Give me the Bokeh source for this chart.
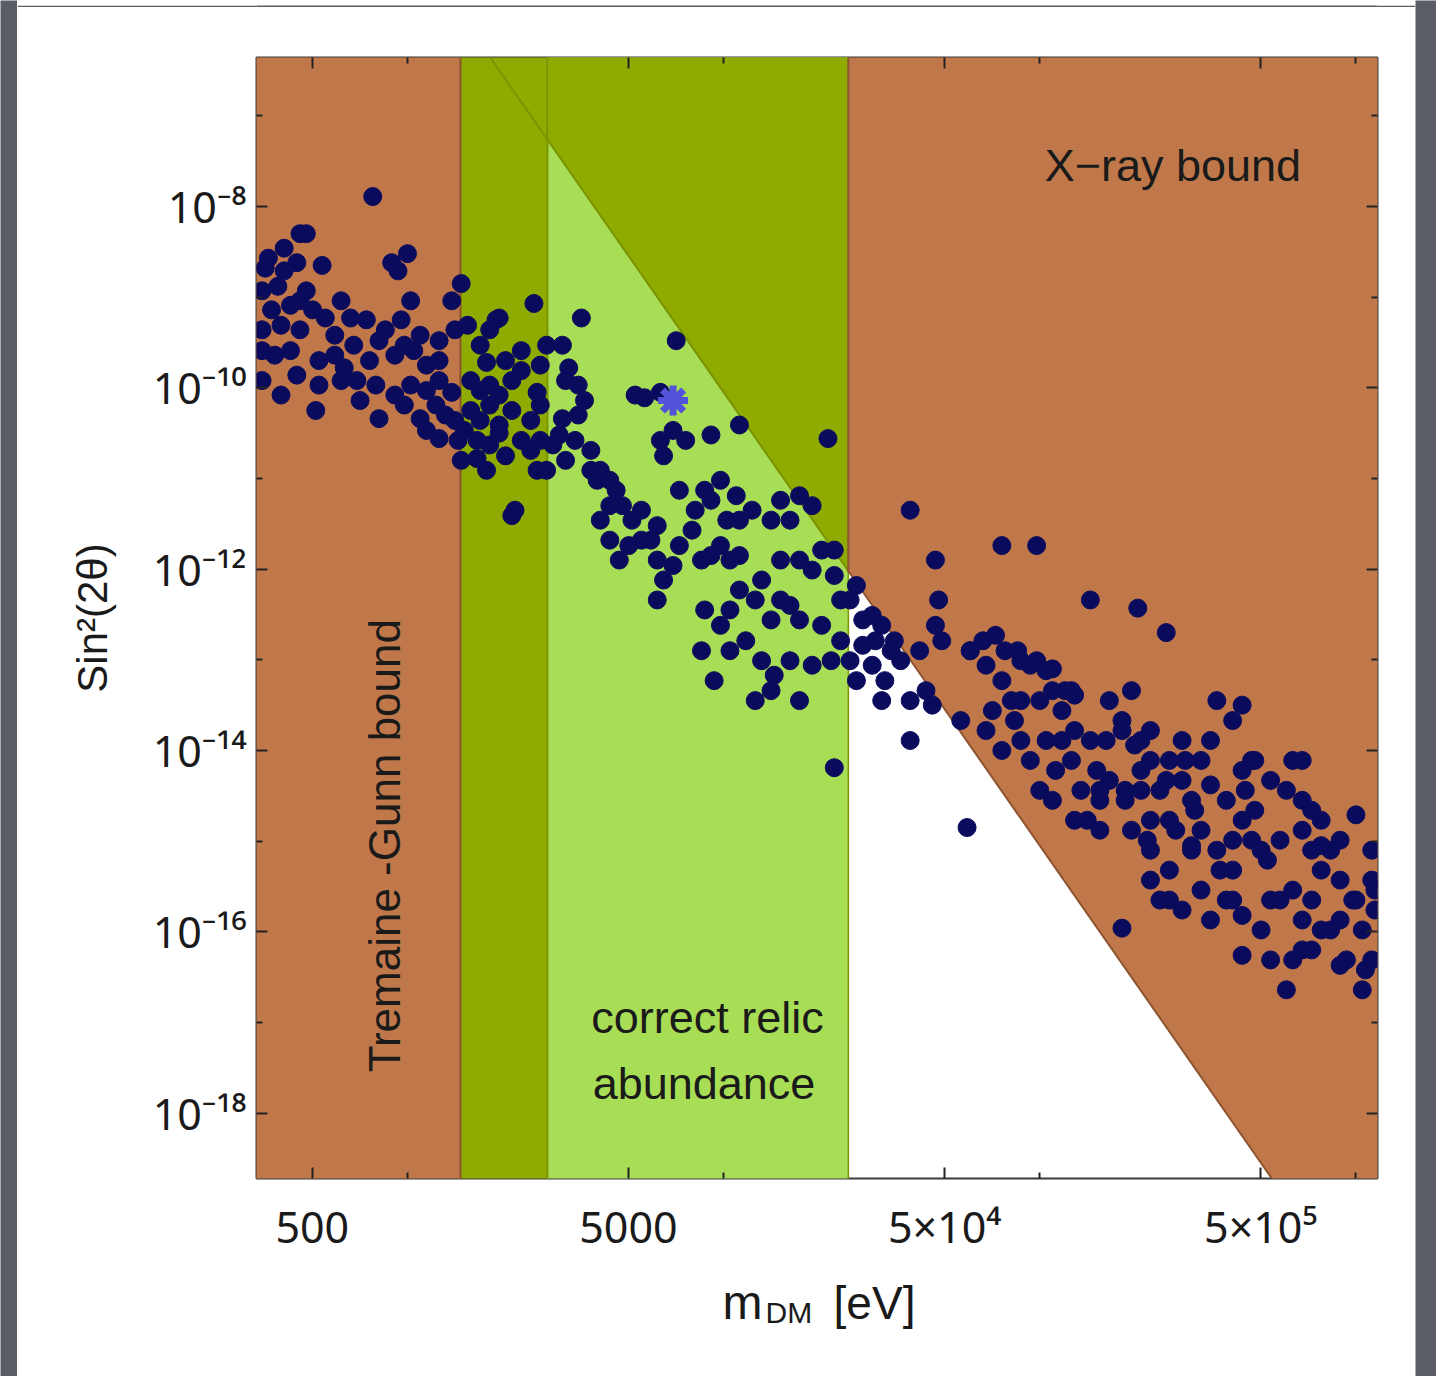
import math
from bokeh.plotting import figure
from bokeh.layouts import row, column
from bokeh.models import FixedTicker, LogAxis, Range1d
from bokeh.core.properties import value
from bokeh.embed import file_html
from bokeh.resources import INLINE

FONT = "Liberation Sans"
TICK_FONT = "Noto Sans"

# ---------------- data ----------------
x_limits = [333.0, 1.17e6]          # m_DM [eV]
y_limits = [1.9e-19, 4.4e-7]        # sin^2(2 theta)

tremaine_gunn_limit = 1470.0        # eV
dark_band_edge = 2770.0             # eV
relic_upper = 24800.0               # eV
xray_m = [1828.0, 5.42e5]           # X-ray bound end points
xray_s = [4.4e-7, 1.9e-19]

x_major = [500, 5000, 50000, 500000]
x_minor = [1000, 10000, 100000, 1000000]
x_tick_labels = ["500", "5000", "5×10⁴", "5×10⁵"]
y_major = [1e-8, 1e-10, 1e-12, 1e-14, 1e-16, 1e-18]
y_minor = [1e-7, 1e-9, 1e-11, 1e-13, 1e-15, 1e-17, 1e-19]
y_tick_labels = ["10⁻⁸", "10⁻¹⁰", "10⁻¹²", "10⁻¹⁴", "10⁻¹⁶", "10⁻¹⁸"]

# scan points: log10(m/eV), log10(sin^2 2theta)
log_m = [
    # below the Tremaine-Gunn limit
    2.89, 2.66, 2.68, 2.56, 2.61, 2.95, 3.00, 2.65, 2.73, 2.97, 2.54, 2.59, 2.66, 2.68,
    3.17, 3.14, 2.57, 2.63, 2.70, 2.74, 2.82, 3.01, 2.98, 2.54, 2.60, 2.66, 2.77, 2.83,
    2.91, 2.99, 3.04, 3.10, 3.15, 2.54, 2.58, 2.63, 2.72, 2.77, 2.80, 2.88, 2.96, 3.02,
    3.06, 3.10, 2.54, 2.65, 2.72, 2.79, 2.90, 2.96, 3.01, 3.06, 3.10, 3.14, 2.71, 2.85,
    2.91, 2.99, 3.04, 3.09, 3.12, 3.15, 3.06, 3.10, 3.16, 3.18, 2.55, 2.61, 2.79, 2.87,
    2.93, 2.84, 2.60,
    # dark band
    3.19, 3.26, 3.28, 3.29, 3.40, 3.44, 3.23, 3.25, 3.31, 3.36, 3.36, 3.42, 3.20, 3.23,
    3.26, 3.29, 3.33, 3.41, 3.20, 3.23, 3.26, 3.29, 3.33, 3.39, 3.42, 3.22, 3.26, 3.29,
    3.31, 3.36, 3.39, 3.42, 3.17, 3.22, 3.25, 3.33, 3.34, 3.41,
    # correct relic abundance band
    3.55, 3.49, 3.85, 3.51, 3.54, 3.56, 3.50, 3.72, 3.75, 3.80, 3.54, 3.49, 3.48, 3.46,
    3.53, 3.58, 3.80, 3.84, 3.88, 3.96, 4.05, 4.33, 3.44, 3.50, 3.58, 3.60, 3.61, 3.64,
    3.66, 3.81, 3.86, 3.94, 3.99, 4.04, 4.24, 3.61, 3.64, 3.68, 3.71, 3.74, 3.79, 3.90,
    3.91, 3.96, 4.01, 4.05, 4.09, 4.15, 4.18, 4.21, 4.28, 4.31, 4.35, 3.67, 3.77, 3.79,
    3.81, 3.84, 3.86, 3.93, 3.96, 3.99, 4.02, 4.05, 4.12, 4.18, 4.24, 4.28, 4.35, 3.79,
    3.94, 3.99, 4.02, 4.05, 4.10, 4.15, 4.18, 4.21, 4.24, 4.31, 4.37, 4.37, 3.93, 3.97,
    4.02, 4.07, 4.12, 4.16, 4.21, 4.28, 4.34, 4.24, 4.10, 4.15, 4.35, 3.64, 3.70, 3.74,
    # heavier masses
    4.40, 4.42, 4.44, 4.47, 4.50, 4.44, 4.48, 4.53, 4.54, 4.40, 4.42, 4.47, 4.51, 4.56,
    4.59, 4.62, 4.67, 4.69, 4.64, 4.66, 4.59, 4.50, 4.59, 4.67, 4.68, 4.77, 4.88, 4.99,
    4.78, 4.83, 4.86, 4.89, 4.91, 4.94, 4.99, 5.02, 5.04, 5.07, 5.10, 5.16, 4.83, 4.88,
    4.94, 4.97, 5.00, 5.05, 5.07, 5.10, 5.13, 5.15, 5.16, 5.18, 5.19, 5.11, 5.04, 5.31,
    5.40, 5.26, 5.29, 5.32, 5.35, 5.38, 5.41, 5.45, 5.48, 5.51, 5.54, 5.56, 5.29, 5.35,
    5.41, 5.48, 5.51, 5.57, 5.61, 5.64, 5.65, 5.26, 5.27, 5.22, 5.38, 5.45, 5.54, 5.64,
    5.70, 5.73, 5.78, 5.80, 5.83, 5.86, 5.89, 5.92, 5.95, 5.99, 6.02, 6.03, 6.05, 6.06,
    6.02, 5.95, 5.89, 5.83, 5.80, 5.73, 5.68, 5.76, 5.97, 6.00, 4.88, 4.75, 5.22, 5.19,
    5.35, 5.70, 5.86, 5.61, 5.80, 5.92, 5.67, 5.51, 5.45, 5.32, 5.83,
    4.78, 4.82, 4.93, 4.97, 5.04, 5.08, 5.11, 5.00, 4.94, 4.85, 4.92, 5.02, 5.11, 5.21,
    5.26, 5.30, 5.35, 5.41, 5.46, 5.61, 5.64, 5.19, 5.27, 5.32, 5.40, 5.49, 5.54, 5.59,
    5.64, 5.68, 5.78, 5.83, 5.86, 5.34, 5.43, 5.48, 5.56, 5.61, 5.67, 5.72, 5.83, 5.89,
    6.05, 5.35, 5.41, 5.59, 5.64, 5.76, 5.89, 5.95, 6.00, 6.06, 5.73, 5.86, 5.95, 6.05,
]
log_s2 = [
    -7.89, -8.30, -8.30, -8.57, -8.46, -8.62, -8.52, -8.62, -8.65, -8.71, -8.93, -8.88, -9.04, -8.93,
    -8.85, -9.04, -9.14, -9.09, -9.14, -9.23, -9.23, -9.04, -9.25, -9.36, -9.31, -9.36, -9.42, -9.53,
    -9.48, -9.53, -9.42, -9.48, -9.36, -9.59, -9.64, -9.59, -9.70, -9.64, -9.78, -9.70, -9.64, -9.59,
    -9.75, -9.70, -9.92, -9.86, -9.97, -9.92, -9.97, -10.08, -9.97, -10.03, -9.92, -10.05, -10.25, -10.14,
    -10.34, -10.19, -10.34, -10.19, -10.30, -10.36, -10.47, -10.56, -10.58, -10.47, -8.68, -8.71, -9.04, -9.25,
    -9.36, -9.92, -10.08,
    -9.31, -9.36, -9.25, -9.23, -9.07, -9.53, -9.53, -9.72, -9.70, -9.81, -9.59, -9.75, -9.92, -10.03,
    -9.97, -10.08, -9.92, -10.05, -10.25, -10.36, -10.19, -10.41, -10.25, -10.36, -10.19, -10.58, -10.63, -10.50,
    -10.75, -10.58, -10.69, -10.58, -10.80, -10.78, -10.91, -11.41, -11.35, -10.91,
    -9.23, -9.53, -9.48, -9.78, -9.97, -10.14, -9.92, -10.08, -10.11, -10.05, -10.30, -10.34, -10.52, -10.63,
    -10.58, -10.69, -10.58, -10.47, -10.58, -10.52, -10.41, -10.56, -10.91, -10.80, -10.91, -11.02, -10.91, -11.02,
    -11.13, -10.75, -11.13, -11.13, -11.02, -11.19, -11.19, -11.46, -11.30, -11.30, -11.46, -11.35, -11.52, -11.57,
    -11.35, -11.24, -11.46, -11.46, -11.35, -11.46, -11.24, -11.46, -11.30, -11.79, -11.79, -11.90, -11.68, -11.90,
    -12.12, -11.96, -11.74, -11.90, -11.85, -11.74, -11.90, -11.85, -12.12, -11.90, -11.90, -12.01, -12.07, -12.34,
    -12.45, -12.62, -12.45, -12.23, -12.34, -12.56, -12.34, -12.40, -12.56, -12.62, -12.34, -12.79, -12.90, -13.23,
    -12.90, -12.79, -13.01, -13.17, -13.01, -13.06, -13.01, -13.45, -13.45, -13.34, -14.19, -11.68, -11.74, -11.68,
    -12.34, -12.18, -12.56, -12.51, -12.62, -12.84, -12.79, -12.90, -12.79, -13.01, -13.23, -13.06, -13.23, -13.01,
    -13.45, -12.90, -12.62, -12.79, -13.34, -13.50, -13.89, -13.45, -11.35, -11.90, -12.34, -14.85, -11.74, -11.74,
    -12.90, -13.06, -12.73, -12.90, -13.45, -13.01, -13.01, -13.12, -13.34, -13.56, -13.34, -12.34, -13.78, -14.00,
    -13.89, -14.11, -14.44, -14.22, -13.89, -14.11, -14.44, -14.77, -13.89, -14.22, -14.55, -14.77, -14.55, -12.43,
    -12.70, -13.67, -13.34, -13.89, -14.11, -14.44, -14.77, -14.33, -14.55, -14.11, -13.89, -13.45, -14.88, -15.10,
    -15.32, -15.10, -15.54, -15.32, -14.99, -14.77, -14.44, -15.96, -14.55, -14.33, -15.65, -15.76, -15.87, -16.26,
    -15.98, -15.65, -16.64, -16.31, -15.87, -15.65, -15.32, -15.10, -15.43, -15.65, -15.98, -16.42, -15.43, -15.76,
    -16.64, -14.99, -14.77, -14.55, -14.11, -14.33, -14.66, -14.99, -16.31, -14.71, -13.23, -13.67, -13.45, -14.88,
    -14.77, -15.10, -15.10, -15.65, -15.54, -15.98, -14.11, -14.88, -13.89, -14.44, -16.20,
    -12.90, -12.79, -12.90, -13.06, -13.10, -13.34, -13.39, -13.45, -13.45, -13.56, -13.67, -13.89, -13.78, -13.89,
    -13.78, -13.94, -13.78, -14.11, -14.11, -13.67, -13.50, -14.44, -14.44, -14.22, -14.33, -14.66, -14.38, -14.55,
    -14.22, -14.11, -14.44, -14.11, -14.66, -14.99, -14.88, -15.05, -15.10, -15.32, -14.99, -15.21, -14.88, -15.05,
    -15.10, -15.43, -15.65, -15.65, -15.82, -15.65, -15.98, -15.87, -15.65, -15.54, -16.31, -16.20, -16.37, -16.31,
]
bench_log_m = [3.84]
bench_log_s2 = [-10.14]

# ---------------- colours ----------------
BROWN = "#C0784A"
BROWN_EDGE = "#8E5430"
DARK_GREEN = "#8FAB00"
DARK_GREEN_EDGE = "#7C9400"
LIGHT_GREEN = "#A8DD56"
NAVY = "#0B0B5E"
STAR = "#5252DA"
SLIDE = "#5A5D63"
INK = "#1a1a1a"


def xray(m):
    lm0, lm1 = math.log10(xray_m[0]), math.log10(xray_m[1])
    ls0, ls1 = math.log10(xray_s[0]), math.log10(xray_s[1])
    k = (ls1 - ls0) / (lm1 - lm0)
    return 10 ** (ls0 + k * (math.log10(m) - lm0))


def xray_inv(s):
    lm0, lm1 = math.log10(xray_m[0]), math.log10(xray_m[1])
    ls0, ls1 = math.log10(xray_s[0]), math.log10(xray_s[1])
    k = (ls1 - ls0) / (lm1 - lm0)
    return 10 ** (lm0 + (math.log10(s) - ls0) / k)


p = figure(width=1398, height=1253, x_axis_type="log", y_axis_type="log", title=None,
           x_range=Range1d(*x_limits), y_range=Range1d(*y_limits),
           output_backend="svg", toolbar_location=None,
           min_border_left=239, min_border_right=38, min_border_top=50, min_border_bottom=82,
           background_fill_color="white", border_fill_color="white")
p.grid.visible = False
p.outline_line_color = "#3a3a3a"
p.outline_line_width = 2

FAR_L, FAR_R, FAR_B, FAR_T = 100.0, 1e8, 1e-22, 1e-4

# relic band (light), dark band, dark triangle above the X-ray line
p.quad(left=[dark_band_edge], right=[relic_upper], bottom=[FAR_B], top=[FAR_T],
       fill_color=LIGHT_GREEN, line_color=DARK_GREEN_EDGE, line_width=1.5)
p.quad(left=[tremaine_gunn_limit], right=[dark_band_edge], bottom=[FAR_B], top=[FAR_T],
       fill_color=DARK_GREEN, line_color=DARK_GREEN_EDGE, line_width=2)
p.patch([dark_band_edge, dark_band_edge, relic_upper, relic_upper],
        [xray(dark_band_edge), FAR_T, FAR_T, xray(relic_upper)],
        fill_color=DARK_GREEN, line_color=DARK_GREEN_EDGE, line_width=1.5)
p.line([xray_inv(FAR_T), relic_upper], [FAR_T, xray(relic_upper)],
       line_color=DARK_GREEN_EDGE, line_width=2)

# Tremaine-Gunn bound
p.quad(left=[FAR_L], right=[tremaine_gunn_limit], bottom=[FAR_B], top=[FAR_T],
       fill_color=BROWN, line_color=BROWN_EDGE, line_width=2)
# X-ray bound
p.patch([relic_upper, relic_upper, FAR_R, FAR_R, xray_inv(FAR_B)],
        [xray(relic_upper), FAR_T, FAR_T, FAR_B, FAR_B],
        fill_color=BROWN, line_color=BROWN_EDGE, line_width=2)

# scan points
p.scatter([10 ** v for v in log_m], [10 ** v for v in log_s2], size=18,
          fill_color=NAVY, line_color=NAVY)
p.scatter([10 ** v for v in bench_log_m], [10 ** v for v in bench_log_s2], marker="asterisk",
          size=30, line_color=STAR, line_width=7)

# region labels
txt = dict(text_font=value(FONT), text_font_size="45px", text_color=INK,
           text_align="center", text_baseline="middle")
p.text(x=[10 ** 5.421], y=[10 ** -7.55], text=["X−ray bound"], **txt)
p.text(x=[10 ** 3.949], y=[10 ** -16.94], text=["correct relic"], **txt)
p.text(x=[10 ** 3.938], y=[10 ** -17.67], text=["abundance"], **txt)
p.text(x=[10 ** 2.927], y=[10 ** -15.05], text=["Tremaine -Gunn bound"], angle=math.pi / 2,
       **{**txt, "text_font_size": "44px"})

# axes
for ax in (p.xaxis[0], p.yaxis[0]):
    ax.axis_line_color = None
    ax.major_tick_in = 11
    ax.major_tick_out = 0
    ax.minor_tick_in = 6
    ax.minor_tick_out = 0
    ax.major_tick_line_color = "#222222"
    ax.minor_tick_line_color = "#222222"
    ax.major_tick_line_width = 2
    ax.minor_tick_line_width = 2
    ax.major_label_text_font = TICK_FONT
    ax.major_label_text_font_size = "43px"
    ax.major_label_text_color = INK

p.xaxis[0].ticker = FixedTicker(ticks=x_major, minor_ticks=x_minor)
p.xaxis[0].major_label_overrides = {t: l for t, l in zip(x_major, x_tick_labels)}
p.xaxis[0].major_label_standoff = 18
p.yaxis[0].ticker = FixedTicker(ticks=y_major, minor_ticks=y_minor)
p.yaxis[0].major_label_overrides = {t: l for t, l in zip(y_major, y_tick_labels)}
p.yaxis[0].major_label_standoff = 10
p.yaxis[0].axis_label = "Sin²(2θ)"
p.yaxis[0].axis_label_text_font = FONT
p.yaxis[0].axis_label_text_font_size = "42px"
p.yaxis[0].axis_label_text_font_style = "normal"
p.yaxis[0].axis_label_text_color = INK
p.yaxis[0].axis_label_standoff = 34

for loc, tk in (("above", FixedTicker(ticks=x_major, minor_ticks=x_minor)),
                ("right", FixedTicker(ticks=y_major, minor_ticks=y_minor))):
    ax = LogAxis(ticker=tk, axis_line_color=None,
                 major_tick_in=11, major_tick_out=0, minor_tick_in=6, minor_tick_out=0,
                 major_tick_line_width=2, minor_tick_line_width=2,
                 major_tick_line_color="#222222", minor_tick_line_color="#222222",
                 major_label_text_color=None, major_label_standoff=0)
    p.add_layout(ax, loc)

# x-axis title strip (m_DM [eV]) below the plot; shares the plot's mass axis
t = figure(width=1398, height=116, x_axis_type="log", x_range=p.x_range,
           y_range=Range1d(0, 116), title=None,
           output_backend="svg", toolbar_location=None, x_axis_location=None,
           y_axis_location=None, min_border=0, outline_line_color=None,
           background_fill_color="white", border_fill_color="white")
t.grid.visible = False
title_parts = ["m", "DM", "[eV]"]
t.text(x=[10 ** 3.9965, 10 ** 4.1326, 10 ** 4.3478], y=[74, 64, 74], text=title_parts,
       text_font=value(FONT), text_font_size=["48px", "30px", "46px"],
       text_color=INK, text_align="left", text_baseline="alphabetic")


def slide_strip(w, h):
    s = figure(width=w, height=h, output_backend="svg", toolbar_location=None, title=None,
               x_axis_location=None, y_axis_location=None, min_border=0,
               outline_line_color=None, background_fill_color=SLIDE, border_fill_color=SLIDE)
    s.grid.visible = False
    return s


layout = row(slide_strip(17, 1376),
             column(slide_strip(1398, 7), p, t),
             slide_strip(21, 1376))

open("out.html", "w").write(file_html(layout, INLINE))
